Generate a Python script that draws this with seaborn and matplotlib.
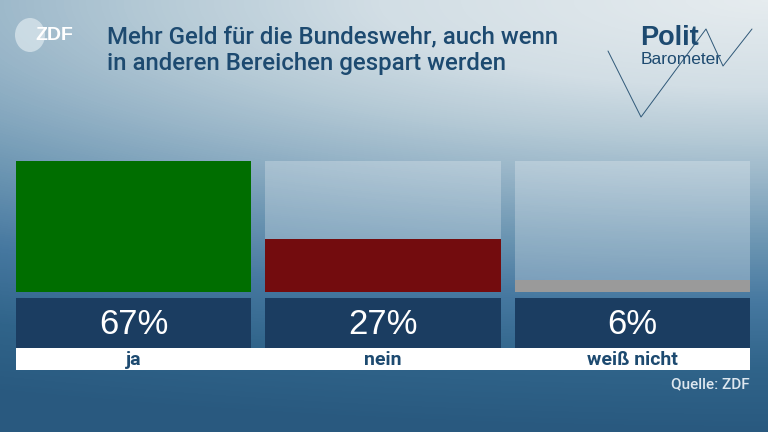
import numpy as np
import pandas as pd
import matplotlib
matplotlib.use("Agg")
import matplotlib.pyplot as plt
from matplotlib.colors import LinearSegmentedColormap
from matplotlib.patches import Ellipse
import seaborn as sns

# ---- data ----
categories = ["ja", "nein", "weiß nicht"]
values = [67, 27, 6]
value_labels = ["67%", "27%", "6%"]
bar_colors = ["#006e00", "#730c0e", "#9a9a9a"]
title = "Mehr Geld für die Bundeswehr, auch wenn\nin anderen Bereichen gespart werden"
source = "Quelle: ZDF"

sns.set_theme(style="white")
plt.rcParams["font.family"] = ["Roboto", "DejaVu Sans"]

W, H = 768, 432
fig = plt.figure(figsize=(W / 100, H / 100), dpi=100)

# ---- background gradient ----
bg = fig.add_axes([0, 0, 1, 1], zorder=0)
yy, xx = np.mgrid[0:H, 0:W]
d = np.sqrt(((W - xx) / W * 0.4) ** 2 + (yy / H) ** 2)
cmap = LinearSegmentedColormap.from_list(
    "bg",
    [(0.0, "#e6ecef"), (0.2, "#d2dee5"), (0.32, "#b5cad6"), (0.42, "#98b5c8"),
     (0.55, "#6f98b4"), (0.7, "#4678a0"), (0.85, "#30648a"), (1.0, "#29597f")])
bg.imshow(np.clip(d, 0, 1), cmap=cmap, vmin=0, vmax=1, aspect="auto",
          extent=[0, W, H, 0])
bg.set_xlim(0, W)
bg.set_ylim(H, 0)
bg.axis("off")

# ZDF logo
bg.add_patch(Ellipse((30, 35), 30, 34, color="#e3edf2", alpha=0.65, lw=0))
bg.text(35, 35, "ZDF", color="white", fontsize=14, fontweight="bold",
        va="center", ha="left", family=["Liberation Sans", "DejaVu Sans"])

# Title
bg.text(107, 25, title, color="#1d4a70", fontsize=17.3, fontweight="medium",
        va="top", ha="left", linespacing=1.2)

# Politbarometer logo
bg.plot([608, 641, 706, 723, 752], [51, 117, 29, 66, 29], color="#2f5878", lw=0.7)
bg.text(640, 38, "Polit", color="#1d4a70", fontsize=19.5, fontweight="bold",
        va="center", ha="left", family=["Liberation Sans", "DejaVu Sans"])
bg.text(641, 60, "Barometer", color="#1d4a70", fontsize=12.5,
        va="center", ha="left", family=["Liberation Sans", "DejaVu Sans"])

# Source
bg.text(750, 384, source, color="#dde7ef", fontsize=11, fontweight="medium",
        va="center", ha="right")

df = pd.DataFrame({"cat": categories, "val": values, "full": [max(values)] * 3})

bw = 0.943  # bar width in category units
xl = (-bw / 2, 2 + bw / 2)

# ---- bars ----
ax = fig.add_axes([16 / W, (H - 292) / H, 734 / W, 131 / H], zorder=2)
ax.patch.set_alpha(0)
sns.barplot(data=df, x="cat", y="full", color="white", alpha=0.25, width=bw,
            ax=ax, linewidth=0, saturation=1)
sns.barplot(data=df, x="cat", y="val", hue="cat", palette=bar_colors,
            width=bw, ax=ax, linewidth=0, legend=False, saturation=1)
ax.set_xlim(*xl)
ax.set_ylim(0, max(values))
ax.axis("off")

# ---- value boxes ----
ax2 = fig.add_axes([16 / W, (H - 348) / H, 734 / W, 50 / H], zorder=2)
ax2.patch.set_alpha(0)
sns.barplot(data=df.assign(one=1), x="cat", y="one", color="#1b3d61",
            width=bw, ax=ax2, linewidth=0, saturation=1)
ax2.set_xlim(*xl)
ax2.set_ylim(0, 1)
ax2.axis("off")
for i, lab in enumerate(value_labels):
    ax2.text(i, 0.47, lab, color="white", fontsize=25, ha="center",
             va="center", family=["Liberation Sans", "DejaVu Sans"])

# ---- category strip ----
ax3 = fig.add_axes([16 / W, (H - 370) / H, 734 / W, 22 / H], zorder=2)
ax3.set_facecolor("white")
ax3.set_xlim(*xl)
ax3.set_ylim(0, 1)
ax3.set_xticks([])
ax3.set_yticks([])
for s in ax3.spines.values():
    s.set_visible(False)
for i, c in enumerate(categories):
    ax3.text(i, 0.45, c, color="#1d4a70", fontsize=14, fontweight="bold",
             ha="center", va="center")

fig.savefig("out.png", dpi=100)
